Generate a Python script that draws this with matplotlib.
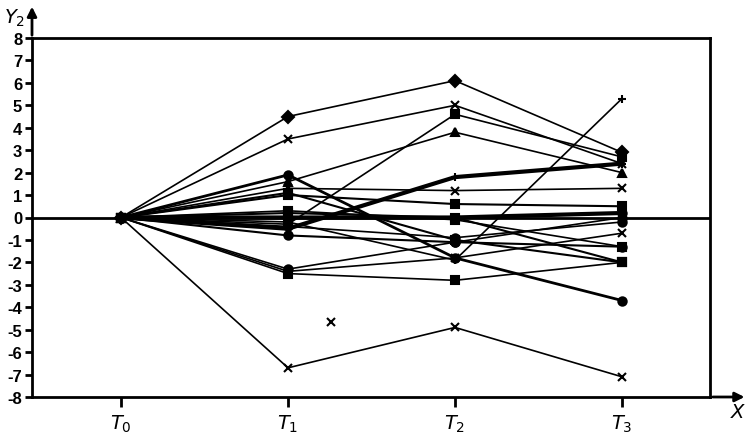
import matplotlib
matplotlib.use("Agg")
import matplotlib.pyplot as plt

plt.rcParams['font.family'] = ['Liberation Sans', 'DejaVu Sans']

# time points and tick labels
times = [0, 1, 2, 3]
time_labels = ['$T_0$', '$T_1$', '$T_2$', '$T_3$']
y_ticks = list(range(-8, 9))

# individual trajectories (value at T0..T3), marker, line width
series = [
    ([0, 4.5, 6.1, 2.9], 'D', 1.2),
    ([0, 3.5, 5.0, 2.4], 'x', 1.2),
    ([0, 1.9, -1.8, -3.7], 'o', 2.0),
    ([0, 1.6, 3.8, 2.0], '^', 1.2),
    ([0, 1.3, 1.2, 1.3], 'x', 1.2),
    ([0, 1.0, 0.6, 0.5], 's', 1.5),
    ([0, 1.1, -1.0, -2.0], 's', 1.5),
    ([0, -0.3, 4.6, 2.7], 's', 1.2),
    ([0, -0.5, 1.8, 2.4], '+', 3.0),
    ([0, 0.0, 0.0, 0.2], 'o', 3.0),
    ([0, -0.2, -1.9, 5.3], '+', 1.2),
    ([0, -0.8, -1.1, -1.3], 'o', 1.5),
    ([0, -0.4, -0.9, -0.2], 'o', 1.2),
    ([0, -2.3, -1.1, 0.0], 'o', 1.2),
    ([0, -2.4, -1.8, -0.7], 'x', 1.2),
    ([0, -2.5, -2.8, -2.0], 's', 1.2),
    ([0, -6.7, -4.9, -7.1], 'x', 1.2),
    ([0, 0.2, 0.0, -2.0], 's', 1.5),
    ([0, 0.3, -0.1, -1.3], 's', 1.2),
]

# stray single observation
stray_x = [1.26]
stray_y = [-4.67]

fig = plt.figure(figsize=(7.5, 4.35), dpi=100)
ax = fig.add_axes([32 / 750, 37 / 435, (710 - 32) / 750, (398 - 39) / 435])
ax.set_xlim(-0.533, 3.527)
ax.set_ylim(-8, 8)

ax.axhline(0, color='black', lw=2)

for vals, mk, lw in series:
    ax.plot(times, vals, color='black', lw=lw, marker=mk, markersize=6,
            markeredgewidth=1.5, clip_on=False)

ax.plot(stray_x, stray_y, ls='none', marker='x', color='black',
        markersize=6, markeredgewidth=1.5)

for sp in ax.spines.values():
    sp.set_linewidth(2)
    sp.set_color('black')

ax.set_yticks(y_ticks)
ax.set_yticklabels([str(v) for v in y_ticks], fontsize=12, fontweight='bold')
ax.set_xticks(times)
ax.set_xticklabels(time_labels, fontsize=14)
ax.tick_params(axis='y', direction='out', length=5, width=2, pad=2)
ax.tick_params(axis='x', direction='out', length=7, width=2, pad=4)

# axis arrows
ax.annotate('', xy=(0, 1.095), xytext=(0, 1.0), xycoords='axes fraction',
            arrowprops=dict(arrowstyle='-|>', color='black', lw=2,
                            mutation_scale=14))
ax.annotate('', xy=(1.055, 0), xytext=(1.0, 0), xycoords='axes fraction',
            arrowprops=dict(arrowstyle='-|>', color='black', lw=2,
                            mutation_scale=14))

fig.text(15 / 750, 1 - 18 / 435, '$Y_2$', fontsize=14, ha='center', va='center')
fig.text(738 / 750, 1 - 413 / 435, '$X$', fontsize=14, ha='center', va='center')

fig.savefig('out.png', dpi=100)
